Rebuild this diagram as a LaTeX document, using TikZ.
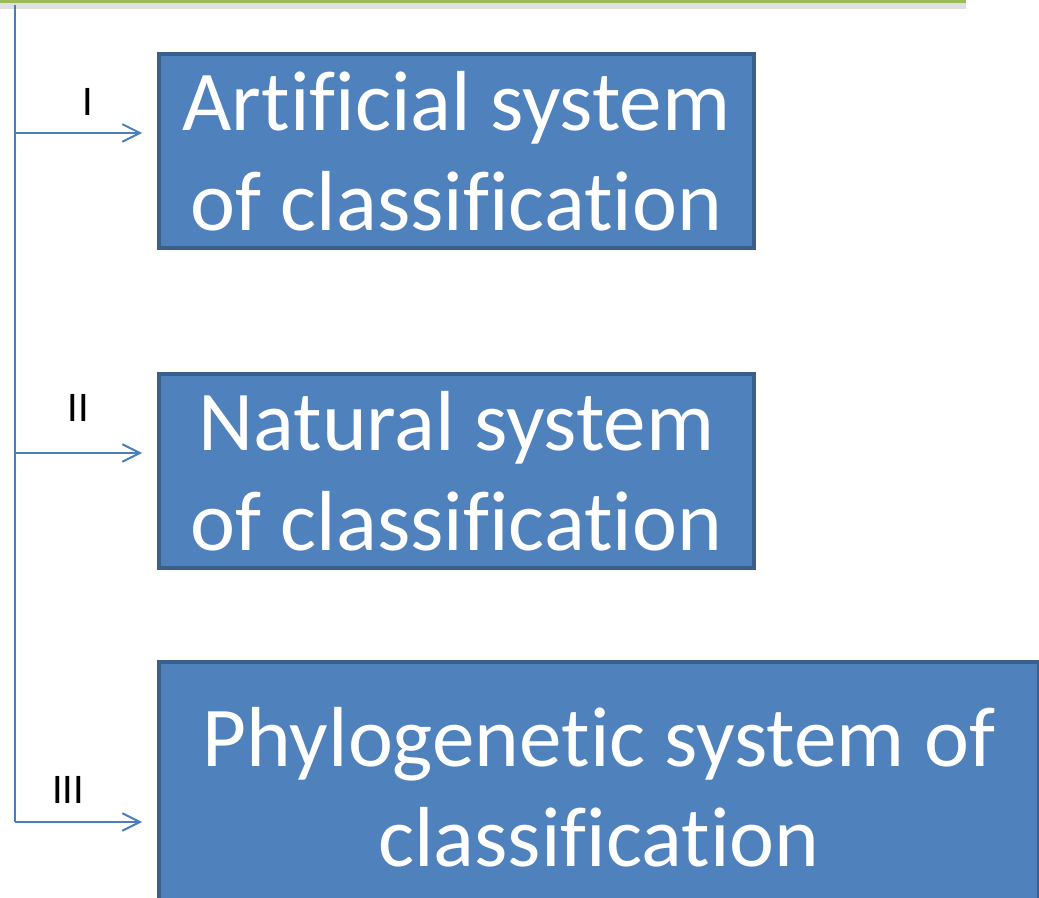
\documentclass[tikz,border=0pt]{standalone}
\usepackage{fontspec}
\setmainfont{Carlito}[Ligatures=NoCommon]
\usetikzlibrary{arrows.meta,positioning}
\definecolor{boxblue}{HTML}{4F81BD}
\definecolor{boxedge}{HTML}{3A5F8B}
\definecolor{linkblue}{HTML}{4A7EBB}
\definecolor{bargreen}{HTML}{9BBB59}
\tikzset{
  sysbox/.style={draw=boxedge,line width=2.2pt,fill=boxblue,text=white,align=center,
    anchor=north west,inner sep=0pt,font=\fontsize{48.5}{57}\selectfont},
  branch/.style={draw=linkblue,line width=1.1pt,shorten >=8.5pt,
    -{Straight Barb[length=10pt,width=10pt]}},
  numlabel/.style={font=\fontsize{24}{28}\selectfont}
}
\begin{document}
\begin{tikzpicture}[x=0.02cm,y=-0.02cm]
	\useasboundingbox (0,0) rectangle (1039,898);
	% top bar with its shadow
	\fill[black!30,opacity=0.4] (0,3) rectangle (966,9);
	\fill[bargreen] (0,0) rectangle (966,3.5);
	% the three systems
	\node[sysbox,minimum width=11.9cm,minimum height=3.88cm] (artificial) at (157,52) {Artificial system\\of classification};
	\node[sysbox,minimum width=11.9cm,minimum height=3.88cm] (natural) at (157,372) {Natural system\\of classification};
	\node[sysbox,minimum width=17.6cm,minimum height=5cm] (phylo) at (157,660) {Phylogenetic system of\\classification};
	% trunk and branches
	\coordinate (top) at (15,5);
	\coordinate (j1) at (15,133);
	\coordinate (j2) at (15,453);
	\coordinate (j3) at (15,822);
	\draw[linkblue,line width=1.1pt] (top)--(j3);
	\draw[branch] (j1)--(j1 -| artificial.west);
	\draw[branch] (j2)--(j2 -| natural.west);
	\draw[branch] (j3)--(j3 -| phylo.west);
	\node[numlabel] (n1) at (88,102) {I};
	\node[numlabel] (n2) at (78,408) {II};
	\node[numlabel] (n3) at (68,790) {III};
\end{tikzpicture}
\end{document}
